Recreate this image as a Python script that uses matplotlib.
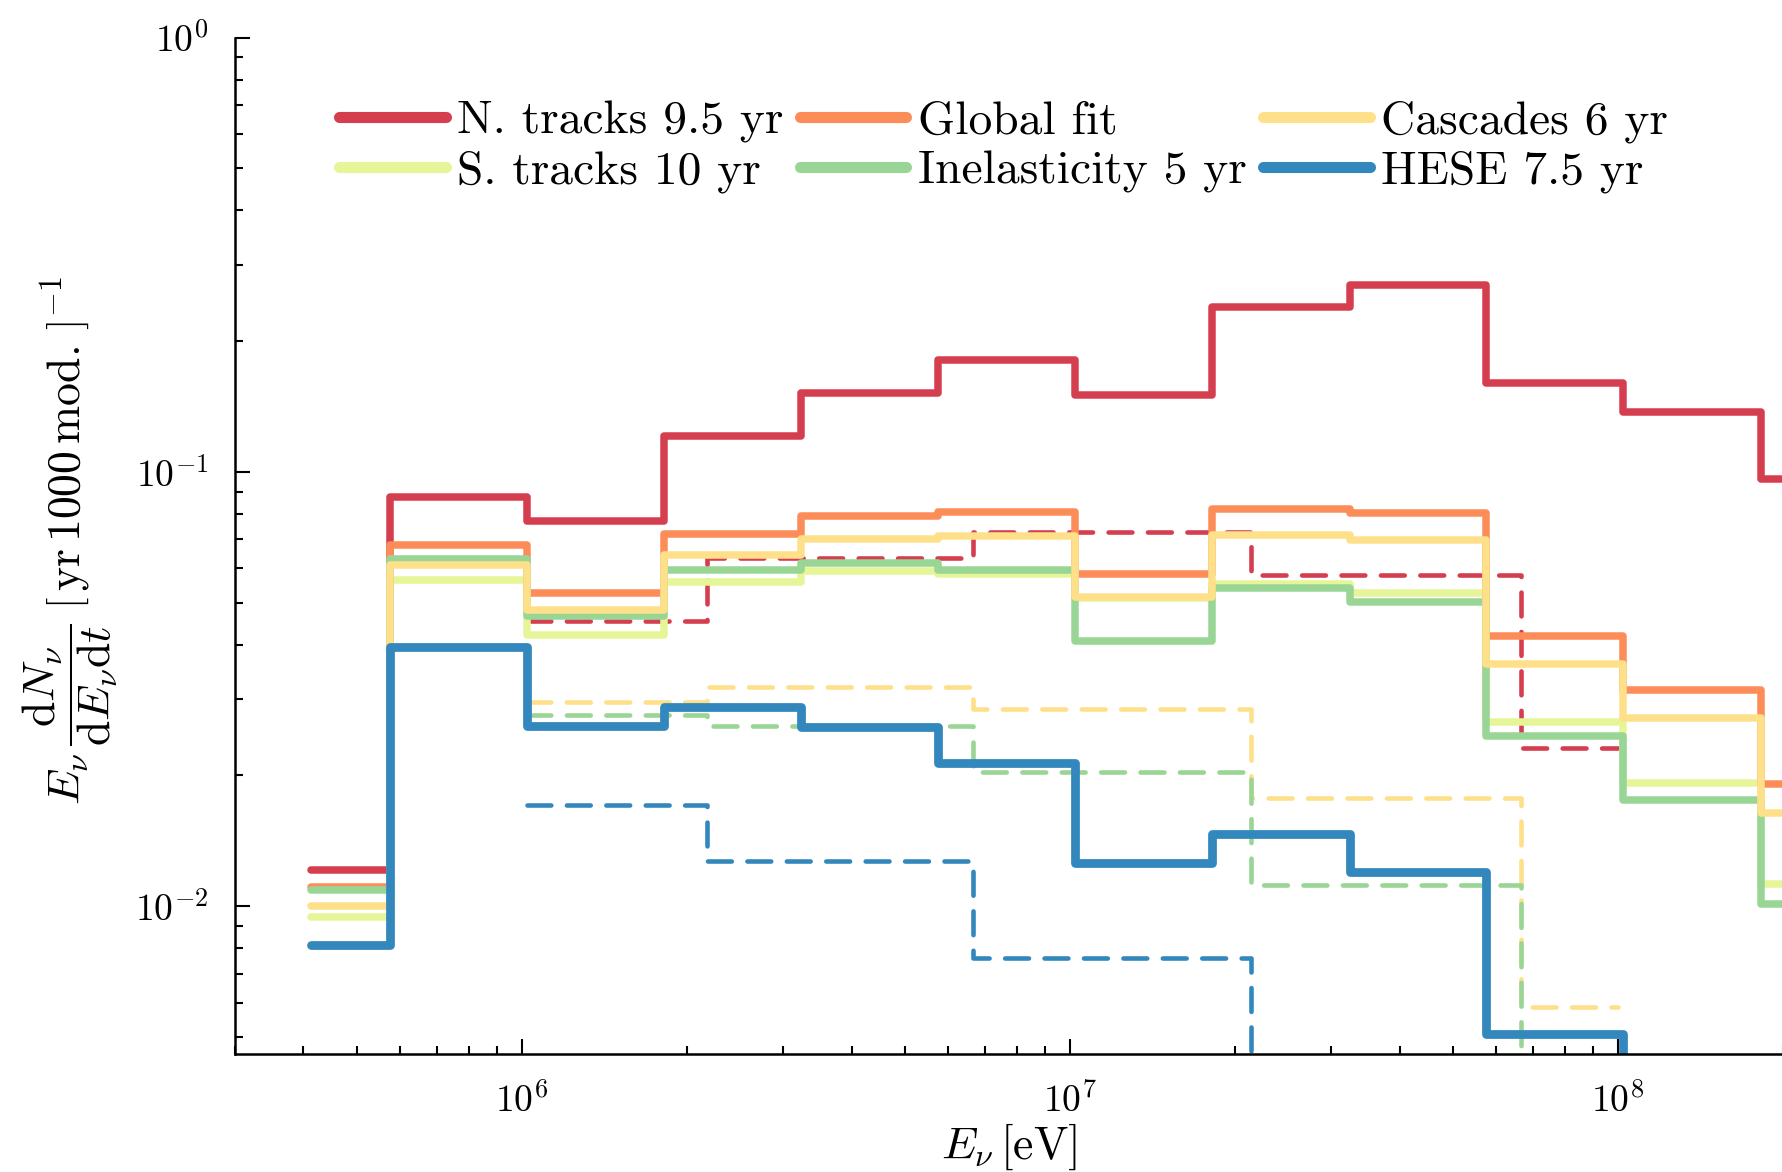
import numpy as np
import matplotlib
matplotlib.use("Agg")
import matplotlib.pyplot as plt
from matplotlib.ticker import NullFormatter

plt.rcParams['font.family'] = ['cmr10', 'DejaVu Serif']
plt.rcParams['mathtext.fontset'] = 'cm'
plt.rcParams['axes.formatter.use_mathtext'] = True
plt.rcParams['axes.unicode_minus'] = False

# bin edges [eV] of the solid histograms and of the dashed ones
E_edges = [4.12e5, 5.75e5, 1.023e6, 1.82e6, 3.24e6, 5.75e6, 1.023e7,
           1.82e7, 3.24e7, 5.75e7, 1.023e8, 1.82e8, 3.24e8]
E_edges_dash = [1.023e6, 2.18e6, 6.67e6, 2.14e7, 6.65e7, 1.0e8]

# solid: measured rates
n_tracks = [0.0121, 0.0877, 0.0769, 0.121, 0.152, 0.181, 0.150, 0.240, 0.269, 0.160, 0.137, 0.0963]
s_tracks = [0.00945, 0.0564, 0.0422, 0.0559, 0.0590, 0.0582, 0.0512, 0.0553, 0.0526, 0.0265, 0.0192, 0.01127]
global_fit = [0.01105, 0.0679, 0.0526, 0.0719, 0.0792, 0.0807, 0.0582, 0.0820, 0.0803, 0.0419, 0.0315, 0.0191]
inelast = [0.01088, 0.0630, 0.0467, 0.0596, 0.0618, 0.0594, 0.0409, 0.0541, 0.0502, 0.0247, 0.0176, 0.0101]
cascades = [0.0100, 0.0610, 0.0481, 0.0644, 0.0700, 0.0712, 0.0514, 0.0716, 0.0697, 0.0361, 0.0271, 0.0164]
hese = [0.00813, 0.0395, 0.0260, 0.0288, 0.0259, 0.0214, 0.0126, 0.01466, 0.01197, 0.00508, 1e-5, 1e-5]

# dashed
n_tracks_d = [0.0453, 0.0634, 0.0729, 0.0580, 0.0231]
cascades_d = [0.0296, 0.0319, 0.0285, 0.01773, 0.00585]
inelast_d = [0.0275, 0.0260, 0.0204, 0.0112, 1e-5]
hese_d = [0.01714, 0.01268, 0.0076, 1e-5, 1e-5]

labels = ['N. tracks 9.5 yr', 'S. tracks 10 yr', 'Global fit',
          'Inelasticity 5 yr', 'Cascades 6 yr', 'HESE 7.5 yr']
colors = ['#d53e4f', '#e6f598', '#fc8d59', '#99d594', '#fee08b', '#3288bd']
solid = [n_tracks, s_tracks, global_fit, inelast, cascades, hese]
dashed = {0: n_tracks_d, 4: cascades_d, 3: inelast_d, 5: hese_d}

fig = plt.figure(figsize=(17.83, 11.72), dpi=100)
ax = fig.add_axes([0.1318, 0.1007, 0.8682, 0.8673])

def steps(edges, vals):
    return edges, list(vals) + [vals[-1]]

for i in [0, 4, 3, 5]:
    x, y = steps(E_edges_dash, dashed[i])
    ax.step(x, y, where='post', color=colors[i], lw=3.3, ls=(0, (5.2, 3.4)),
            dash_capstyle='round', solid_joinstyle='round')

for i, vals in enumerate(solid):
    x, y = steps(E_edges, vals)
    lw = 6.3 if i == 5 else 5.4
    ax.step(x, y, where='post', color=colors[i], lw=lw, label=labels[i],
            solid_capstyle='round', solid_joinstyle='round')

ax.set_xscale('log')
ax.set_yscale('log')
ax.set_xlim(3.0e5, 2.0e8)
ax.set_ylim(4.57e-3, 1.0)

for s in ['top', 'right']:
    ax.spines[s].set_visible(False)
for s in ['left', 'bottom']:
    ax.spines[s].set_linewidth(1.8)

ax.tick_params(which='both', direction='in', top=False, right=False, width=1.5)
ax.tick_params(which='major', length=11, labelsize=27)
ax.tick_params(which='minor', length=6)
ax.tick_params(axis='x', which='major', pad=20)
ax.tick_params(axis='y', which='major', pad=19)
ax.xaxis.set_minor_formatter(NullFormatter())
ax.yaxis.set_minor_formatter(NullFormatter())

ax.set_xlabel(r'$E_\nu\,[\mathrm{eV}]$', fontsize=33)
ax.set_ylabel(r'$E_\nu\,\dfrac{\mathrm{d}N_\nu}{\mathrm{d}E_\nu\mathrm{d}t}\;'
              r'\left[\,\mathrm{yr}\,1000\,\mathrm{mod.}\,\right]^{-1}$', fontsize=33)
ax.xaxis.set_label_coords(0.5, -0.066)
ax.yaxis.set_label_coords(-0.074, 0.505)

leg = ax.legend(ncol=3, loc='upper left', bbox_to_anchor=(0.067, 0.938),
                frameon=False, fontsize=34.2, borderpad=0, borderaxespad=0,
                handlelength=2.25, handletextpad=0.25, columnspacing=0.33,
                labelspacing=0.15)
for h in leg.get_lines():
    h.set_linewidth(8)
    h.set_solid_capstyle('round')

fig.savefig('out.png', dpi=100)
